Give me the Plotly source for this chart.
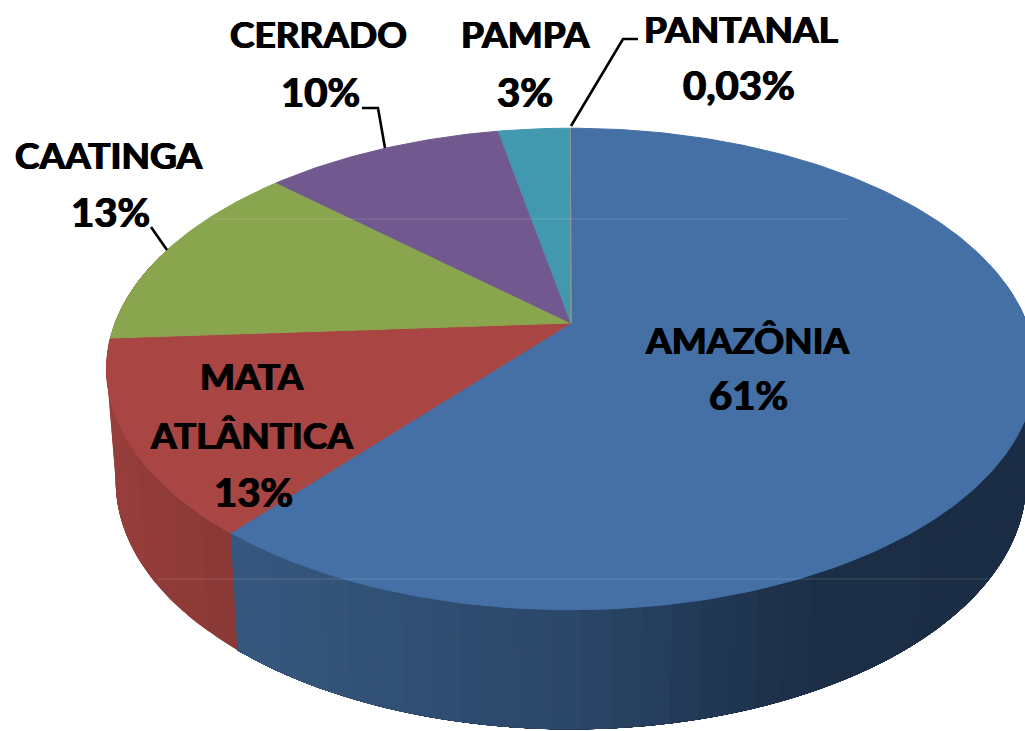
import math
import plotly.graph_objects as go

# Data
categories = ["AMAZÔNIA", "MATA ATLÂNTICA", "CAATINGA", "CERRADO", "PAMPA", "PANTANAL"]
values = [61, 13, 13, 10, 3, 0.03]
value_labels = ["61%", "13%", "13%", "10%", "3%", "0,03%"]

# Styles
top_colors = ["#4470A6", "#A94542", "#89A54E", "#71588F", "#4198AF", "#8A9A80"]
WALL_BLUE = [(0, (55, 88, 127)), (0.45, (42, 70, 104)), (0.75, (27, 46, 70)), (1, (27, 45, 69))]
WALL_RED = [(0, (150, 62, 59)), (1, (138, 56, 53))]

# Camera (perspective view of the pie disc, in page pixels)
AX, AY = 571, 323
R, H, K = 456, 232, 0.191
DEPTH, SX, SY = 111, 0.98, 1.03


def top_pt(frac):
    a = 2 * math.pi * frac
    u, v = math.sin(a), -math.cos(a)
    w = 1 - K * v
    return AX + R * u / w, AY + H * v / w


def bot_pt(frac):
    x, y = top_pt(frac)
    return AX + (x - AX) * SX, AY + DEPTH + (y - AY) * SY


def lerp(stops, t):
    t = max(0, min(1, t))
    for (t0, c0), (t1, c1) in zip(stops, stops[1:]):
        if t <= t1:
            f = (t - t0) / (t1 - t0) if t1 > t0 else 0
            c = [round(a + (b - a) * f) for a, b in zip(c0, c1)]
            return "rgb(%d,%d,%d)" % tuple(c)
    return "rgb(%d,%d,%d)" % stops[-1][1]


fig = go.Figure()
total = sum(values)
bounds = [0]
for v in values:
    bounds.append(bounds[-1] + v / total)


def poly(xs, ys, color, w=0.0):
    fig.add_trace(go.Scatter(x=xs, y=ys, mode="lines", fill="toself", fillcolor=color,
                             line=dict(color=color, width=w), hoverinfo="skip", showlegend=False))


def wall(f_a, f_b, n, shade):
    """Painter's strips: each one runs on to the far end so no seam can show."""
    for i in range(n):
        f0 = f_a + (f_b - f_a) * i / n
        steps = [f0 + (f_b - f0) * j / 40 for j in range(41)]
        tops = [top_pt(f) for f in steps]
        bots = [bot_pt(f) for f in reversed(steps)]
        pts = tops + bots
        poly([p[0] for p in pts], [p[1] for p in pts], shade(top_pt(f0)[0]))


# Blue wall is painted from the right edge towards the seam, red from the seam leftwards
wall(0.22, bounds[1], 45, lambda x: lerp(WALL_BLUE, (x - 243) / (1025 - 243)))
wall(bounds[1], 0.80, 14, lambda x: lerp(WALL_RED, (x - 113) / 130))

# Top faces
for i, name in enumerate(categories):
    n = max(2, int((bounds[i + 1] - bounds[i]) * 360))
    pts = [top_pt(bounds[i] + (bounds[i + 1] - bounds[i]) * j / n) for j in range(n + 1)]
    xs = [AX] + [p[0] for p in pts] + [AX]
    ys = [AY] + [p[1] for p in pts] + [AY]
    poly(xs, ys, top_colors[i], w=1.0)

# Faint horizontal seams of the picture
for sx, sy in [([213, 847], [219, 219]), ([158, 988], [579, 579])]:
    fig.add_trace(go.Scatter(x=sx, y=sy, mode="lines", line=dict(color="rgba(255,255,255,0.16)", width=1),
                             hoverinfo="skip", showlegend=False))

# Leader lines
leaders = [
    ([362, 378, 385], [108, 108, 148]),
    ([638, 623, 571], [39, 39, 126]),
    ([151, 167], [227, 250]),
]
for lx, ly in leaders:
    fig.add_trace(go.Scatter(x=lx, y=ly, mode="lines", line=dict(color="black", width=2.6),
                             hoverinfo="skip", showlegend=False))

# Text lines
name_pos = [
    (["AMAZÔNIA"], [(747, 339)]),
    (["MATA", "ATLÂNTICA"], [(252, 375), (251, 434)]),
    (["CAATINGA"], [(108, 154)]),
    (["CERRADO"], [(318, 33)]),
    (["PAMPA"], [(525, 33)]),
    (["PANTANAL"], [(741, 28)]),
]
value_pos = [(748, 395), (253, 492), (110, 212), (320, 92), (525, 92), (739, 85)]
SHADOW = "0.7px 0 0 #000, -0.7px 0 0 #000"
NAME_FONT = dict(family="Lato", size=37, color="black", shadow=SHADOW)
VALUE_FONT = dict(family="Lato", size=40, color="black", shadow=SHADOW)
TEXT = "<b>%s</b>"
for (lines, pos), vlabel, vp in zip(name_pos, value_labels, value_pos):
    for s, (x, y) in zip(lines, pos):
        fig.add_annotation(x=x, y=y, text=TEXT % s, showarrow=False, font=NAME_FONT, xanchor="center", yanchor="middle")
    fig.add_annotation(x=vp[0], y=vp[1], text=TEXT % vlabel, showarrow=False, font=VALUE_FONT,
                       xanchor="center", yanchor="middle")

fig.update_layout(
    width=1025, height=731, margin=dict(l=0, r=0, t=0, b=0),
    paper_bgcolor="white", plot_bgcolor="white", showlegend=False,
    xaxis=dict(range=[0, 1025], visible=False, fixedrange=True),
    yaxis=dict(range=[731, 0], visible=False, fixedrange=True),
)
fig.write_html(
    "out.html",
    config=dict(displayModeBar=False),
    post_script="document.body.style.margin='0';document.documentElement.style.overflow='hidden';",
)
